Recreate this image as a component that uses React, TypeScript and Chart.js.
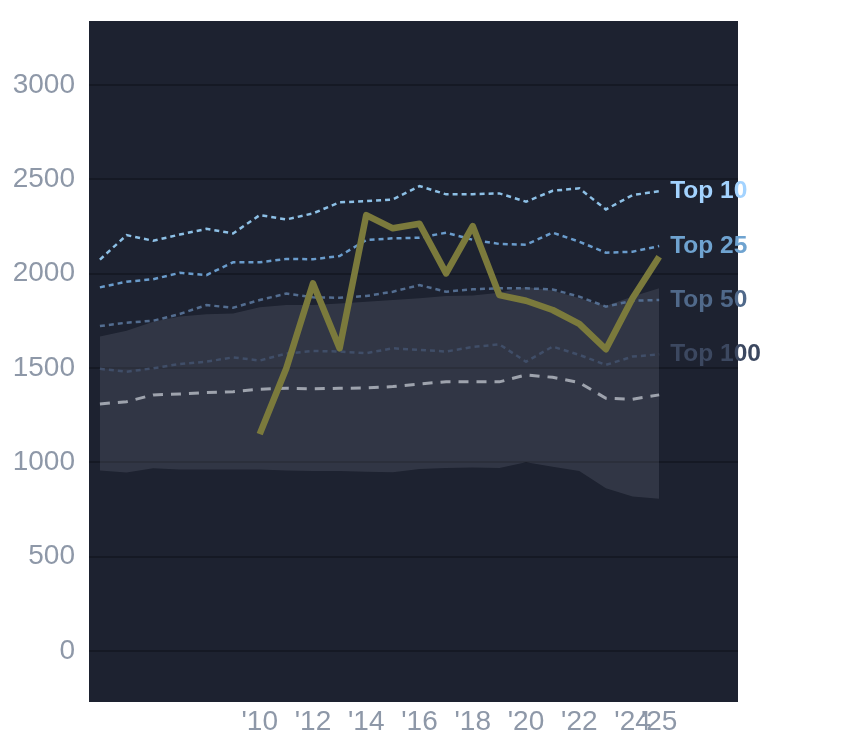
import React, { useEffect, useRef } from "react";
import { Chart, registerables } from "chart.js";

Chart.register(...registerables);

const years = [2004, 2005, 2006, 2007, 2008, 2009, 2010, 2011, 2012, 2013, 2014, 2015, 2016, 2017, 2018, 2019, 2020, 2021, 2022, 2023, 2024, 2025];
const top10 = [2075, 2205, 2175, 2208, 2238, 2214, 2311, 2288, 2320, 2379, 2385, 2394, 2465, 2421, 2422, 2426, 2382, 2440, 2453, 2341, 2417, 2438];
const top25 = [1928, 1958, 1971, 2005, 1993, 2061, 2061, 2079, 2077, 2094, 2179, 2188, 2191, 2218, 2180, 2158, 2154, 2218, 2170, 2112, 2117, 2147];
const top50 = [1723, 1741, 1751, 1787, 1834, 1820, 1861, 1895, 1875, 1873, 1882, 1905, 1940, 1905, 1918, 1923, 1923, 1917, 1879, 1826, 1857, 1861];
const top100 = [1496, 1481, 1499, 1522, 1534, 1557, 1540, 1577, 1591, 1588, 1579, 1605, 1596, 1588, 1612, 1626, 1534, 1614, 1570, 1517, 1561, 1573];
const median = [1310, 1322, 1358, 1363, 1370, 1375, 1388, 1393, 1390, 1393, 1395, 1402, 1416, 1428, 1427, 1427, 1464, 1451, 1423, 1340, 1335, 1358];
const bandHigh = [1667, 1698, 1746, 1773, 1785, 1790, 1822, 1834, 1834, 1843, 1852, 1861, 1870, 1882, 1885, 1900, 1930, 1912, 1870, 1829, 1879, 1923];
const bandLow = [957, 946, 969, 962, 962, 963, 962, 957, 955, 955, 950, 948, 965, 970, 973, 970, 1001, 977, 955, 863, 819, 807];
const highlightYears = [2010, 2011, 2012, 2013, 2014, 2015, 2016, 2017, 2018, 2019, 2020, 2021, 2022, 2023, 2024, 2025];
const highlight = [1150, 1499, 1949, 1605, 2311, 2241, 2265, 2002, 2253, 1887, 1857, 1808, 1734, 1600, 1870, 2090];
const xTicks = [2010, 2012, 2014, 2016, 2018, 2020, 2022, 2024, 2025];
const yTicks = [0, 500, 1000, 1500, 2000, 2500, 3000];
const tierLabels = ["Top 10", "Top 25", "Top 50", "Top 100"];
const tierLabelColors = ["#a3d3ff", "#6fa3d0", "#50698a", "#3c4860"];

const pts = (xs: number[], ys: number[]) => xs.map((x, i) => ({ x, y: ys[i] }));

export default function App() {
  const ref = useRef<HTMLCanvasElement | null>(null);
  useEffect(() => {
    if (!ref.current) return;
    Chart.defaults.font.family = "'Liberation Sans', Arial, sans-serif";
    const tierSeries = [top10, top25, top50, top100];

    const bgPlugin = {
      id: "plotBg",
      beforeDraw(chart: any) {
        const { ctx, chartArea } = chart;
        ctx.save();
        ctx.fillStyle = "#1d2230";
        ctx.fillRect(chartArea.left, chartArea.top, chartArea.right - chartArea.left, chartArea.bottom - chartArea.top);
        ctx.restore();
      },
    };
    const labelPlugin = {
      id: "tierLabels",
      afterDraw(chart: any) {
        const { ctx, scales } = chart;
        ctx.save();
        ctx.font = "bold 24.5px 'Liberation Sans', Arial, sans-serif";
        ctx.textBaseline = "middle";
        ctx.textAlign = "left";
        tierLabels.forEach((t, i) => {
          const s = tierSeries[i];
          const x = scales.x.getPixelForValue(years[years.length - 1]) + 11;
          const y = scales.y.getPixelForValue(s[s.length - 1]);
          ctx.fillStyle = tierLabelColors[i];
          ctx.fillText(t, x, y);
        });
        ctx.restore();
      },
    };

    const chart = new Chart(ref.current, {
      type: "line",
      data: {
        datasets: [
          {
            label: "highlight",
            data: pts(highlightYears, highlight),
            borderColor: "#7b7a3c",
            borderWidth: 6.5,
            borderJoinStyle: "round",
            pointRadius: 0,
            fill: false,
          },
          {
            label: "Top 10",
            data: pts(years, top10),
            borderColor: "#8dc0e6",
            borderWidth: 2.5,
            borderDash: [5, 4],
            pointRadius: 0,
            fill: false,
          },
          {
            label: "Top 25",
            data: pts(years, top25),
            borderColor: "#6a9ccc",
            borderWidth: 2.5,
            borderDash: [5, 4],
            pointRadius: 0,
            fill: false,
          },
          {
            label: "Top 50",
            data: pts(years, top50),
            borderColor: "#536d90",
            borderWidth: 2.5,
            borderDash: [5, 4],
            pointRadius: 0,
            fill: false,
          },
          {
            label: "Top 100",
            data: pts(years, top100),
            borderColor: "#404e68",
            borderWidth: 2.5,
            borderDash: [5, 4],
            pointRadius: 0,
            fill: false,
          },
          {
            label: "median",
            data: pts(years, median),
            borderColor: "#9ea3ad",
            borderWidth: 3,
            borderDash: [10, 8],
            pointRadius: 0,
            fill: false,
          },
          {
            label: "bandHigh",
            data: pts(years, bandHigh),
            borderColor: "rgba(0,0,0,0)",
            borderWidth: 0,
            pointRadius: 0,
            backgroundColor: "rgba(140,145,160,0.19)",
            fill: "+1",
          },
          {
            label: "bandLow",
            data: pts(years, bandLow),
            borderColor: "rgba(0,0,0,0)",
            borderWidth: 0,
            pointRadius: 0,
            fill: false,
          },
        ],
      },
      options: {
        animation: false,
        responsive: false,
        maintainAspectRatio: false,
        layout: { padding: { left: 0, right: 106, top: 21, bottom: 0 } },
        plugins: {
          legend: { display: false },
          tooltip: { enabled: false },
        },
        elements: { line: { tension: 0 } },
        scales: {
          x: {
            type: "linear",
            min: 2003.59,
            max: 2027.96,
            border: { display: false },
            grid: { display: false, drawTicks: false },
            afterBuildTicks: (scale: any) => {
              scale.ticks = xTicks.map((v) => ({ value: v }));
            },
            afterFit: (scale: any) => {
              scale.height = 46;
              scale.paddingLeft = 0;
              scale.paddingRight = 0;
            },
            ticks: {
              autoSkip: false,
              maxRotation: 0,
              minRotation: 0,
              padding: 3,
              color: "#8e98a8",
              font: { size: 28 },
              callback: (v: any) => "'" + String(v).slice(2),
            },
          },
          y: {
            type: "linear",
            min: -270,
            max: 3340,
            border: { display: false },
            grid: { color: "rgba(0,0,0,0.25)", lineWidth: 2, drawTicks: false },
            afterBuildTicks: (scale: any) => {
              scale.ticks = yTicks.map((v) => ({ value: v }));
            },
            afterFit: (scale: any) => {
              scale.width = 89;
              scale.paddingTop = 0;
              scale.paddingBottom = 0;
            },
            ticks: {
              padding: 14,
              color: "#8e98a8",
              font: { size: 28 },
              callback: (v: any) => String(v),
            },
          },
        },
      } as any,
      plugins: [bgPlugin, labelPlugin],
    });
    return () => chart.destroy();
  }, []);

  return (
    <div style={{ position: "fixed", left: 0, top: 0, width: 844, height: 748, background: "#ffffff" }}>
      <canvas ref={ref} width={844} height={748} style={{ width: 844, height: 748, display: "block" }} />
    </div>
  );
}
